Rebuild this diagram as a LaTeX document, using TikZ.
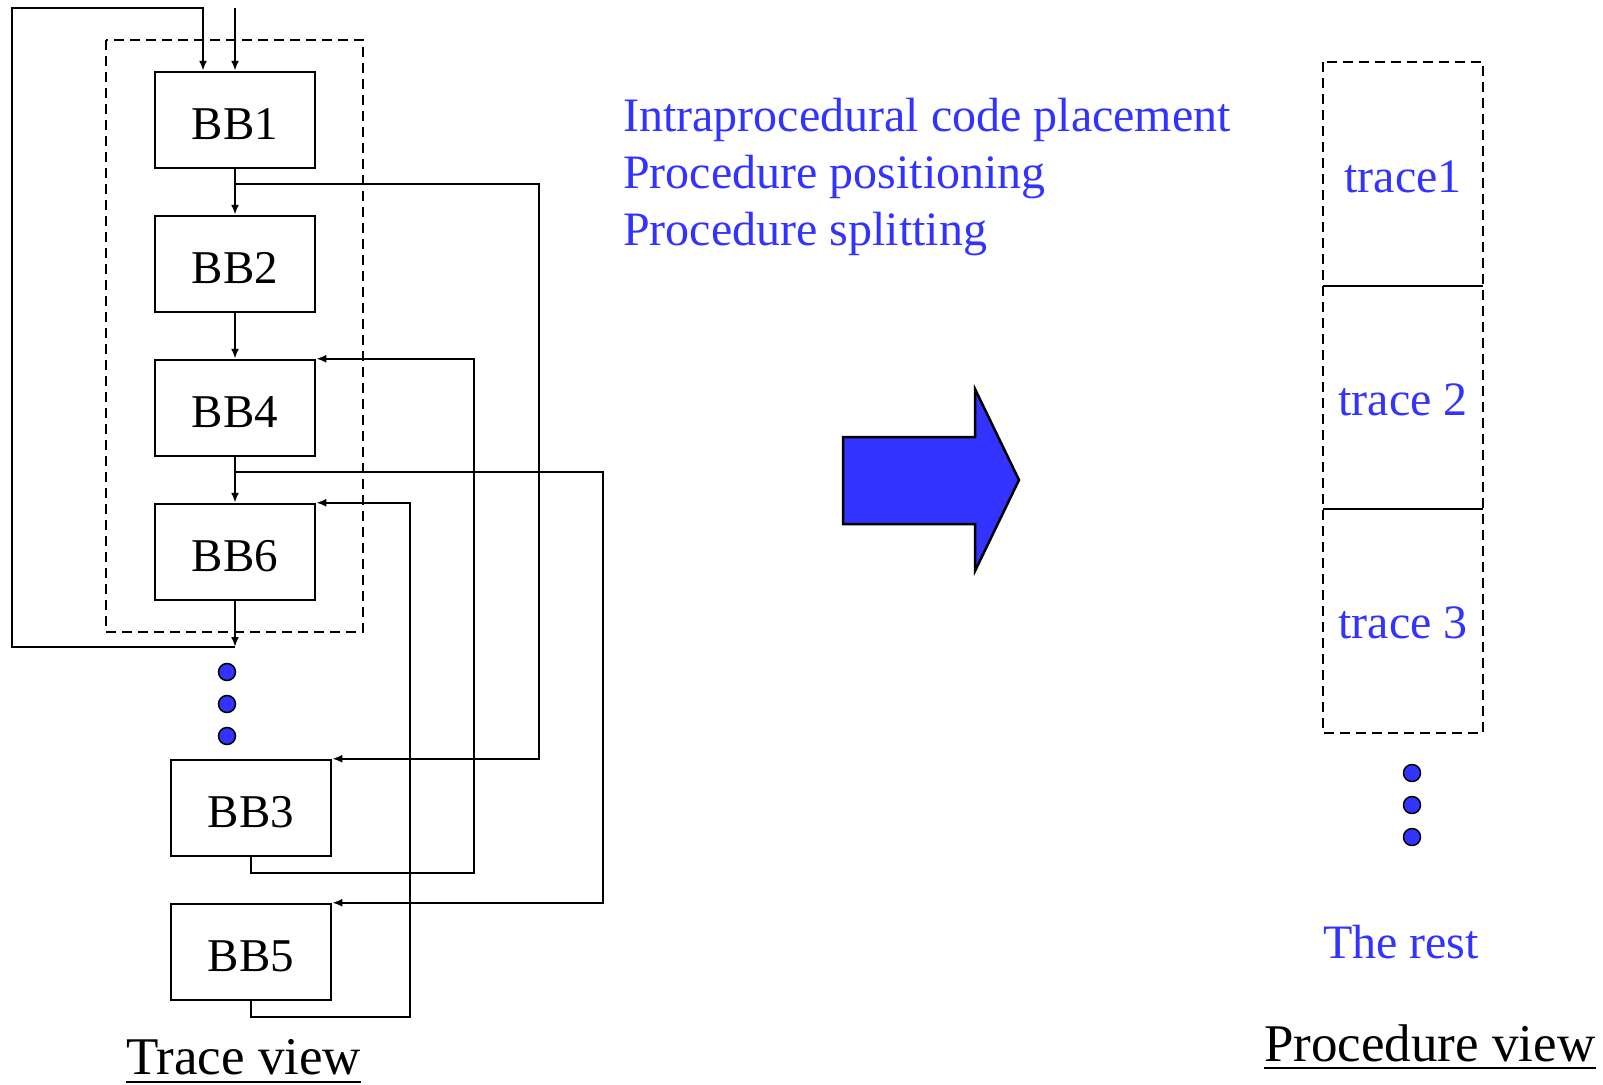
\documentclass[tikz,border=0pt]{standalone}
\usepackage{fontspec}
\setmainfont{Liberation Serif}
\usetikzlibrary{arrows.meta,calc}
\definecolor{vblue}{RGB}{51,51,255}
\begin{document}
\begin{tikzpicture}[x=1pt,y=-1pt,
  bb/.style={draw, line width=2.5pt, minimum width=160pt, minimum height=96pt,
             inner sep=0pt, text height=38pt, text depth=0pt,
             font=\fontsize{47}{56}\selectfont},
  flow/.style={line width=2.1pt, -{Latex[length=10pt,width=8pt]}},
  plain/.style={line width=2.2pt},
  frame/.style={line width=2.5pt, dash pattern=on 10pt off 6pt},
  bluetext/.style={text=vblue, font=\fontsize{48}{57}\selectfont, inner sep=0pt},
  title/.style={font=\fontsize{53}{64}\selectfont, inner sep=0pt},
  dot/.style={circle, draw, line width=1.5pt, fill=vblue, minimum size=17pt, inner sep=0pt}]

\useasboundingbox (0,0) rectangle (1603,1084);

% ---------- trace view: basic blocks ----------
\draw[frame] (106,40) rectangle (363,632);

\node[bb] (BB1) at (235,120) {BB1};
\node[bb] (BB2) at (235,264) {BB2};
\node[bb] (BB4) at (235,408) {BB4};
\node[bb] (BB6) at (235,552) {BB6};
\node[bb] (BB3) at (251,808) {BB3};
\node[bb] (BB5) at (251,952) {BB5};

\node[dot] (d1) at (227,672) {};
\node[dot] (d2) at (227,704) {};
\node[dot] (d3) at (227,736) {};

% turn points of the connectors
\coordinate (p)      at (235,647);
\coordinate (loopBL) at (12,647);
\coordinate (loopTL) at (12,8);
\coordinate (loopTR) at (203,8);
\coordinate (in2)    at (235,8);
\coordinate (br1)    at (235,184);
\coordinate (br2)    at (235,472);
\coordinate (b3)     at (251,873);
\coordinate (b5)     at (251,1017);
\coordinate (r1)     at (539,0);
\coordinate (r2)     at (474,0);
\coordinate (r3)     at (603,0);
\coordinate (r4)     at (410,0);

% fall-through edges
\draw[flow] (in2) -- (BB1.north);
\draw[flow] (BB1.south) -- (BB2.north);
\draw[flow] (BB2.south) -- (BB4.north);
\draw[flow] (BB4.south) -- (BB6.north);
\draw[flow] (BB6.south) -- (p);

% back edge to the trace head
\draw[flow] (p) -- (loopBL) -- (loopTL) -- (loopTR) -- (loopTR |- BB1.north);

% branches out of the trace
\draw[flow] (br1) -- (br1 -| r1) |- (BB3.north east);
\draw[flow] (br2) -- (br2 -| r3) |- (BB5.north east);

% branches back into the trace
\draw[flow] (BB3.south) -- (b3) -- (b3 -| r2) |- (BB4.north east);
\draw[flow] (BB5.south) -- (b5) -- (b5 -| r4) |- (BB6.north east);

\node[title, anchor=base west] (tv) at (126,1074) {Trace view};
\draw[plain] ([yshift=-8pt]tv.base west) -- ([yshift=-8pt]tv.base east);

% ---------- optimisations ----------
\node[bluetext, anchor=base west] (o1) at (623,131) {Intraprocedural code placement};
\node[bluetext, anchor=base west] (o2) at (623,188) {Procedure positioning};
\node[bluetext, anchor=base west] (o3) at (623,245) {Procedure splitting};

% big block arrow
\draw[line width=2.5pt, fill=vblue, line join=miter]
  (843,437) -- (975,437) -- (975,389) -- (1019,480) -- (975,571) -- (975,524) -- (843,524) -- cycle;

% ---------- procedure view ----------
\draw[frame] (1323,62) rectangle (1483,733);
\draw[plain] (1323,286) -- (1483,286);
\draw[plain] (1323,509) -- (1483,509);

\node[bluetext, anchor=base] (t1) at (1403,192) {trace1};
\node[bluetext, anchor=base] (t2) at (1403,415) {trace 2};
\node[bluetext, anchor=base] (t3) at (1403,638) {trace 3};

\node[dot] (e1) at (1412,773) {};
\node[dot] (e2) at (1412,805) {};
\node[dot] (e3) at (1412,837) {};

\node[bluetext, anchor=base] (rest) at (1401,958) {The rest};

\node[title, anchor=base west] (pv) at (1264,1061) {Procedure view};
\draw[plain] ([yshift=-7pt]pv.base west) -- ([yshift=-7pt]pv.base east);

\end{tikzpicture}
\end{document}
